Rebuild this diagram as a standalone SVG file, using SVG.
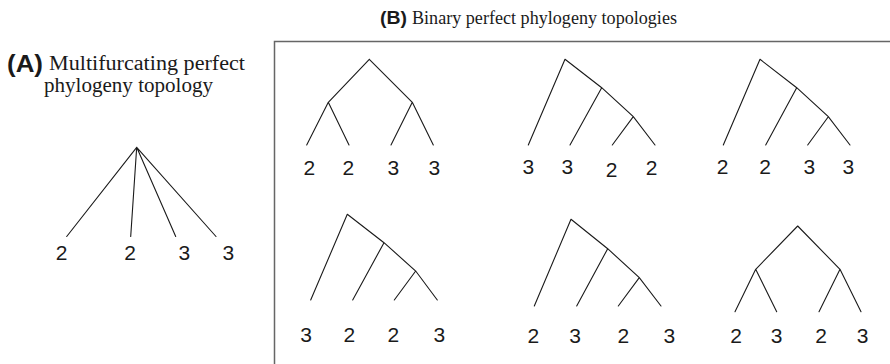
<svg xmlns="http://www.w3.org/2000/svg" width="890" height="364" viewBox="0 0 890 364">
<style>
.e{stroke:#1a1a1a;stroke-width:1.1;fill:none;stroke-linecap:round}
.lab{font-family:"Liberation Sans",Arial,sans-serif;font-size:21px;fill:#1a1a1a;text-anchor:middle}
.bold{font-family:"Liberation Sans",Arial,sans-serif;font-weight:bold;fill:#1a1a1a}
.serif{font-family:"Liberation Serif","Times New Roman",serif;fill:#1a1a1a}
</style>
<rect width="890" height="364" fill="#fff"/>
<g id="titles">
<text class="bold" x="7" y="72" font-size="24" textLength="36" lengthAdjust="spacingAndGlyphs">(A)</text>
<text class="serif" x="49" y="69.5" font-size="20" textLength="196" lengthAdjust="spacingAndGlyphs">Multifurcating perfect</text>
<text class="serif" x="44" y="92" font-size="20" textLength="169" lengthAdjust="spacingAndGlyphs">phylogeny topology</text>
<text class="bold" x="380" y="24" font-size="19" textLength="27" lengthAdjust="spacingAndGlyphs">(B)</text>
<text class="serif" x="412" y="24" font-size="18.5" textLength="265" lengthAdjust="spacingAndGlyphs">Binary perfect phylogeny topologies</text>
</g>
<path id="frame" d="M274.5,364 V41.5 H890" fill="none" stroke="#666" stroke-width="1.5"/>

<g id="treeA">
<g id="treeA-edges" class="e">
<path d="M136.7,147.3 L66.7,236.5 M136.7,147.3 L130.7,236.5 M136.7,147.3 L175.7,236.5 M136.7,147.3 L216,236.5"/>
</g>
<g id="A-l1"><text class="lab" x="61.7" y="260">2</text></g>
<g id="A-l2"><text class="lab" x="130" y="260">2</text></g>
<g id="A-l3"><text class="lab" x="184.3" y="260">3</text></g>
<g id="A-l4"><text class="lab" x="228.3" y="260">3</text></g>
</g>

<g id="tree1">
<g id="tree1-edges" class="e">
<path d="M369.3,59.3 L328.3,102.3 M369.3,59.3 L412.3,102.3 M328.3,102.3 L306.7,145 M328.3,102.3 L349,145 M412.3,102.3 L391,145 M412.3,102.3 L433.3,145"/>
</g>
<g id="t1-l1"><text class="lab" x="309.3" y="175">2</text></g>
<g id="t1-l2"><text class="lab" x="348.3" y="175">2</text></g>
<g id="t1-l3"><text class="lab" x="393.3" y="175">3</text></g>
<g id="t1-l4"><text class="lab" x="434.3" y="175">3</text></g>
</g>

<g id="tree2">
<g id="tree2-edges" class="e">
<path d="M565,59.3 L528.3,145 M565,59.3 L601.7,87.7 L633.3,116.7 L655,145 M601.7,87.7 L570,145 M633.3,116.7 L612.3,145"/>
</g>
<g id="t2-l1"><text class="lab" x="528.3" y="174">3</text></g>
<g id="t2-l2"><text class="lab" x="567.3" y="174">3</text></g>
<g id="t2-l3"><text class="lab" x="611.7" y="177">2</text></g>
<g id="t2-l4"><text class="lab" x="651.7" y="175">2</text></g>
</g>

<g id="tree3">
<g id="tree3-edges" class="e">
<path d="M760,59.3 L723.3,145 M760,59.3 L796.7,87.7 L828.3,116.7 L850,145 M796.7,87.7 L765.7,145 M828.3,116.7 L807.7,145"/>
</g>
<g id="t3-l1"><text class="lab" x="722.7" y="174">2</text></g>
<g id="t3-l2"><text class="lab" x="765" y="174">2</text></g>
<g id="t3-l3"><text class="lab" x="809.3" y="174">3</text></g>
<g id="t3-l4"><text class="lab" x="848.3" y="174">3</text></g>
</g>

<g id="tree4">
<g id="tree4-edges" class="e">
<path d="M347.3,214.3 L310.7,300 M347.3,214.3 L384,242.7 L415.7,271 L437.3,300 M384,242.7 L352.7,300 M415.7,271 L394.3,300"/>
</g>
<g id="t4-l1"><text class="lab" x="306" y="342">3</text></g>
<g id="t4-l2"><text class="lab" x="349.3" y="342">2</text></g>
<g id="t4-l3"><text class="lab" x="393.3" y="342">2</text></g>
<g id="t4-l4"><text class="lab" x="439.3" y="342">3</text></g>
</g>

<g id="tree5">
<g id="tree5-edges" class="e">
<path d="M571,219.3 L534.3,306 M571,219.3 L607.7,248.7 L639.3,277.7 L661,306 M607.7,248.7 L576.7,306 M639.3,277.7 L618.3,306"/>
</g>
<g id="t5-l1"><text class="lab" x="533.3" y="343">2</text></g>
<g id="t5-l2"><text class="lab" x="575" y="343">3</text></g>
<g id="t5-l3"><text class="lab" x="623.3" y="343">2</text></g>
<g id="t5-l4"><text class="lab" x="669.3" y="343">3</text></g>
</g>

<g id="tree6">
<g id="tree6-edges" class="e">
<path d="M797.7,226 L755.7,269.3 M797.7,226 L840,269.3 M755.7,269.3 L735,311.7 M755.7,269.3 L776.7,311.7 M840,269.3 L819,311.7 M840,269.3 L861,311.7"/>
</g>
<g id="t6-l1"><text class="lab" x="736" y="343">2</text></g>
<g id="t6-l2"><text class="lab" x="776.7" y="343">3</text></g>
<g id="t6-l3"><text class="lab" x="821" y="343">2</text></g>
<g id="t6-l4"><text class="lab" x="862.7" y="343">3</text></g>
</g>
</svg>
